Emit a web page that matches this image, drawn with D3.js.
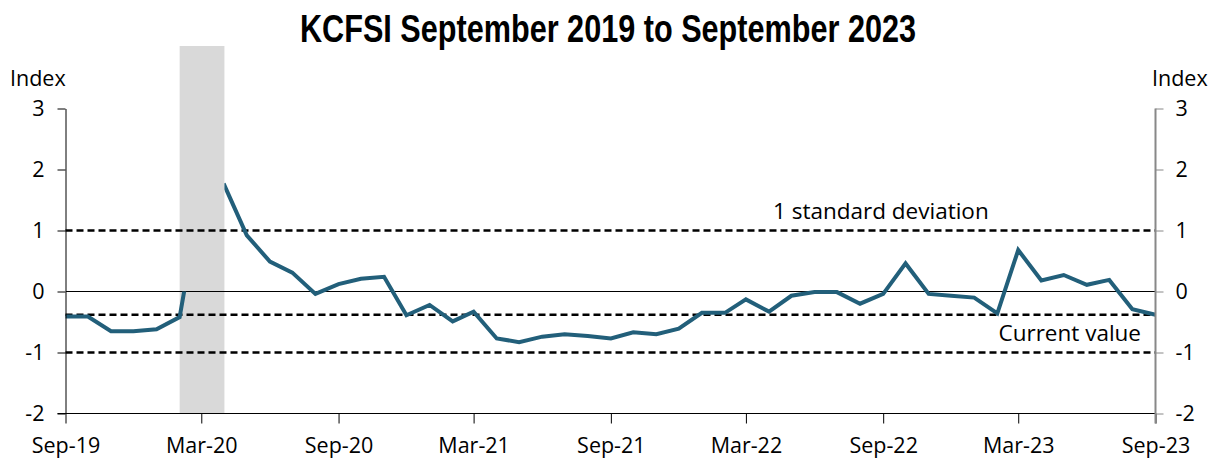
<!DOCTYPE html>
<html>
<head>
<meta charset="utf-8">
<script src="https://cdn.jsdelivr.net/npm/d3@7"></script>
<style>
  body { margin: 0; background: #fff; }
  svg text { font-family: "Open Sans", "DejaVu Sans", sans-serif; fill: #000; }
  .title { font-family: "Liberation Sans", Arial, sans-serif; font-weight: bold; }
</style>
</head>
<body>
<svg id="chart" width="1217" height="459"></svg>
<script>
/* ---------- data ---------- */
// monthly KCFSI readings, Sep-19 .. Sep-23
const startMonth = new Date(2019, 8, 1)
const endMonth = new Date(2023, 8, 1)
const kcfsi = [
    -0.41, -0.41, -0.65, -0.65, -0.62, -0.42,
     1.60,  1.74,  0.92,  0.49,  0.31, -0.04,
     0.12,  0.21,  0.24, -0.39, -0.22, -0.49,
    -0.33, -0.77, -0.83, -0.74, -0.70, -0.73,
    -0.77, -0.67, -0.70, -0.61, -0.35, -0.35,
    -0.13, -0.33, -0.07, -0.01, -0.01, -0.20,
    -0.04,  0.46, -0.04, -0.07, -0.10, -0.36,
     0.68,  0.18,  0.27,  0.11,  0.19, -0.29,
    -0.38
]
const recession = [new Date(2020, 1, 1), new Date(2020, 3, 1)]
const yTicks = [-2, -1, 0, 1, 2, 3]
const xTickLabels = ['Sep-19', 'Mar-20', 'Sep-20', 'Mar-21', 'Sep-21', 'Mar-22', 'Sep-22', 'Mar-23', 'Sep-23']
const stdDevLines = [1, -1]

let months = d3.timeMonth.range(startMonth, d3.timeMonth.offset(endMonth, 1))
let data = months.map((d, i) => ({ date: d, v: kcfsi[i] }))
let current = kcfsi[kcfsi.length - 1]

/* ---------- layout ---------- */
let svg = d3.select('#chart')
let x0 = 65.5, x1 = 1155.5, yTop = 108.5, yBot = 413.5

let x = d3.scaleTime().domain([startMonth, endMonth]).range([x0, x1])
let y = d3.scaleLinear().domain([-2, 3]).range([yBot, yTop])

let xTicks = d3.timeMonth.range(startMonth, d3.timeMonth.offset(endMonth, 1), 6)

// title
svg.append('text').attr('class', 'title')
    .attr('x', 608).attr('y', 42)
    .attr('text-anchor', 'middle')
    .attr('textLength', 616).attr('lengthAdjust', 'spacingAndGlyphs')
    .style('font-size', '38px')
    .text('KCFSI September 2019 to September 2023')

// recession band
svg.append('rect')
    .attr('x', x(recession[0])).attr('width', x(recession[1]) - x(recession[0]))
    .attr('y', 46).attr('height', yBot - 46)
    .attr('fill', '#d9d9d9')

// zero line
svg.append('line')
    .attr('x1', x0).attr('x2', x1)
    .attr('y1', y(0)).attr('y2', y(0))
    .attr('stroke', '#000').attr('stroke-width', 1)
    .attr('shape-rendering', 'crispEdges')

// dashed reference lines: +/-1 sd and current value
svg.selectAll('.ref')
    .data(stdDevLines.concat([current]))
    .enter().append('line')
    .attr('class', 'ref')
    .attr('x1', x0).attr('x2', x1)
    .attr('y1', d => y(d)).attr('y2', d => y(d))
    .attr('stroke', '#000').attr('stroke-width', 2.5)
    .attr('stroke-dasharray', '7,4')

svg.append('text').attr('x', 773).attr('y', 219)
    .style('font-size', '22.5px').text('1 standard deviation')
svg.append('text').attr('x', 1141).attr('y', 341)
    .attr('text-anchor', 'end')
    .style('font-size', '22.5px').text('Current value')

// mask: the band hides the spike above zero
let defs = svg.append('defs')
let mask = defs.append('mask').attr('id', 'bandMask')
mask.append('rect').attr('x', 0).attr('y', 0).attr('width', 1217).attr('height', 459).attr('fill', '#fff')
mask.append('rect')
    .attr('x', x(recession[0])).attr('width', x(recession[1]) - x(recession[0]))
    .attr('y', 0).attr('height', y(0))
    .attr('fill', '#000')

let line = d3.line().x(d => x(d.date)).y(d => y(d.v))
svg.append('path')
    .datum(data)
    .attr('d', line)
    .attr('fill', 'none')
    .attr('stroke', '#225f7a')
    .attr('stroke-width', 4)
    .attr('stroke-linejoin', 'miter')
    .attr('mask', 'url(#bandMask)')

/* ---------- axes ---------- */
let xAxis = svg.append('g')
    .attr('transform', 'translate(0,' + yBot + ')')
    .call(d3.axisBottom(x).tickValues(xTicks).tickSize(10).tickSizeOuter(0)
        .tickFormat((d, i) => xTickLabels[i]))
xAxis.select('.domain').remove()
xAxis.append('line').attr('x1', x0 - 8).attr('x2', x1).attr('stroke', '#000')
xAxis.selectAll('.tick line').attr('stroke', '#000')
xAxis.selectAll('.tick text').attr('y', 24).style('font-size', '21.5px').style('font-family', null)

let yFormat = d => String(d)
let leftAxis = svg.append('g')
    .attr('transform', 'translate(' + x0 + ',0)')
    .call(d3.axisLeft(y).tickValues(yTicks).tickSize(8).tickSizeOuter(0).tickFormat(yFormat))
leftAxis.select('.domain').attr('stroke', '#000')
leftAxis.selectAll('.tick text').attr('x', -21).style('font-size', '21.5px').style('font-family', null)

let rightAxis = svg.append('g')
    .attr('transform', 'translate(' + x1 + ',0)')
    .call(d3.axisRight(y).tickValues(yTicks).tickSize(8).tickSizeOuter(0).tickFormat(yFormat))
rightAxis.select('.domain').attr('stroke', '#888').attr('stroke-width', 2)
    .attr('d', 'M0,' + yTop + 'V' + (yBot + 10))
rightAxis.selectAll('.tick line').attr('stroke', '#888')
rightAxis.selectAll('.tick text').attr('x', 20).style('font-size', '21.5px').style('font-family', null)

svg.append('text').attr('x', 10).attr('y', 86).style('font-size', '21.5px').text('Index')
svg.append('text').attr('x', 1152).attr('y', 86).style('font-size', '21.5px').text('Index')
</script>
</body>
</html>
